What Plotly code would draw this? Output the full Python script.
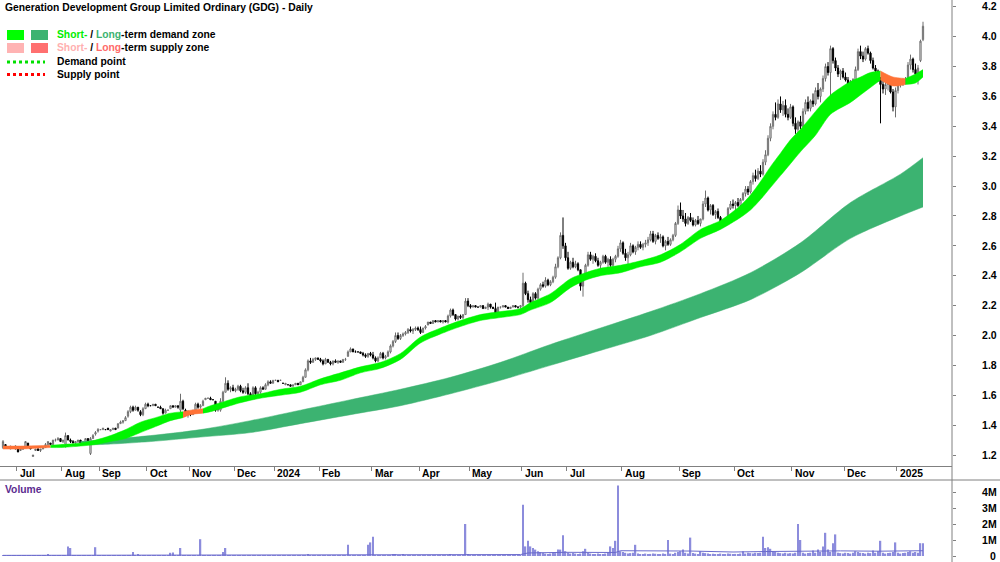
import plotly.graph_objects as go

# ---------------- data (prices in cents, volume in thousands) ----------------
month_labels = ["Jul", "Aug", "Sep", "Oct", "Nov", "Dec", "2024", "Feb", "Mar", "Apr", "May",
                "Jun", "Jul", "Aug", "Sep", "Oct", "Nov", "Dec", "2025"]
month_start = [6, 24, 39, 58, 75, 93, 109, 127, 148, 167, 187, 208, 226, 248, 271, 293, 316, 337, 358]

open_c = [125,127,125,124,125,126,
 124,123,124,125,128,125,119,123,124,123,124,125,127,128,127,130,130,131,
 129,127,133,130,129,128,129,130,128,129,131,121,131,134,136,
 137,137,137,138,136,137,138,138,141,142,143,146,149,152,150,152,149,147,151,
 154,153,153,154,152,152,151,148,150,151,153,152,153,150,156,150,147,
 149,147,150,154,152,153,157,158,158,157,156,150,150,156,162,168,164,165,
 163,164,166,163,162,165,161,158,165,161,162,165,164,167,169,168,
 170,170,170,168,167,167,167,166,167,168,167,169,172,177,183,182,184,185,
 184,183,181,184,182,181,183,182,183,182,184,186,189,191,189,189,189,188,187,186,188,
 187,185,183,185,188,185,186,189,193,196,200,198,200,201,202,204,203,204,205,
 204,202,205,207,209,208,210,209,210,209,210,209,213,217,214,211,213,212,214,223,
 220,219,220,219,219,220,218,219,221,219,218,215,219,219,220,219,218,219,220,219,219,
 220,235,228,224,222,228,225,231,234,233,237,234,236,239,246,252,267,260,
 252,245,249,246,248,244,233,240,247,254,251,253,250,247,249,253,249,251,247,251,253,258,
 262,255,252,254,260,256,259,261,259,261,262,264,268,263,267,265,266,260,263,261,264,267,275,
 284,280,278,275,279,277,274,277,275,278,288,292,284,287,281,283,279,274,277,278,285,288,
 287,289,287,291,295,298,296,303,307,305,310,308,316,321,332,340,348,346,355,351,354,348,346,
 353,342,338,343,340,350,356,352,357,355,364,360,365,372,380,376,392,384,379,375,377,
 373,371,368,370,367,378,390,387,385,392,389,384,379,377,371,368,365,368,370,363,353,
 364,368,369,370,371,381,385,378,375,384,398]

high_c = [130,127,125,126,125,126,
 126,124,124,129,128,125,120,124,125,124,125,128,129,128,130,131,132,131,
 130,135,133,131,130,129,130,130,129,131,131,132,134,136,138,
 137,138,137,138,137,138,138,141,143,143,146,150,153,153,153,152,150,152,155,
 155,153,154,154,152,153,151,151,150,153,153,153,153,161,157,151,150,
 149,150,155,155,154,157,158,158,159,157,156,152,158,163,172,170,166,167,
 165,167,167,165,166,168,162,166,166,163,166,166,168,170,170,170,
 170,170,170,168,168,167,167,167,168,168,169,173,178,184,185,185,185,185,
 185,184,185,184,183,183,184,183,183,184,185,190,192,191,190,189,189,189,188,188,189,
 189,186,186,189,189,187,190,194,197,202,202,201,202,203,205,206,205,206,206,
 206,205,207,209,209,210,210,210,210,210,210,214,218,218,214,213,214,214,225,225,
 221,220,220,219,220,220,219,222,221,219,222,219,219,220,220,219,219,220,220,219,220,
 242,236,230,226,229,229,232,235,236,239,238,237,240,248,253,269,279,262,
 256,250,252,250,249,244,241,248,256,256,254,255,252,250,254,254,252,253,252,254,260,264,
 263,258,256,262,261,260,263,263,262,264,266,270,270,268,269,268,267,264,266,265,268,276,287,
 289,284,282,280,282,279,278,280,278,290,297,293,288,288,284,285,280,278,279,286,290,291,
 290,292,292,296,300,300,304,309,311,312,314,318,324,334,342,350,356,358,360,357,358,352,355,
 354,346,344,347,352,358,360,358,362,366,369,366,374,382,383,394,393,386,381,378,379,
 376,373,371,372,380,392,394,390,393,394,390,386,381,378,373,372,370,372,371,365,366,
 369,371,372,373,383,388,386,382,381,398,410]

low_c = [124,125,125,124,125,124,
 122,123,124,125,126,124,119,123,123,122,124,125,126,127,127,129,130,129,
 128,125,130,128,128,127,128,128,127,129,129,120,131,133,135,
 137,137,137,137,136,137,137,138,141,141,143,145,148,149,150,149,146,146,151,
 152,153,153,153,152,151,147,148,150,151,152,152,151,148,150,146,145,
 146,147,149,151,151,153,157,158,157,157,149,149,149,155,162,163,162,163,
 162,163,162,161,161,160,157,158,160,158,161,164,164,166,168,168,
 170,169,170,168,167,167,166,166,167,167,167,169,172,176,181,182,183,184,
 182,180,181,182,180,180,182,181,182,182,183,186,189,189,189,189,188,186,185,185,186,
 184,182,182,185,184,184,186,188,192,195,197,197,199,200,201,202,201,203,203,
 201,202,204,207,208,208,209,209,209,208,209,208,212,213,210,210,211,211,214,219,
 218,219,219,219,219,218,218,217,218,218,212,215,218,219,219,218,218,219,219,218,218,
 219,227,222,220,221,224,224,230,232,232,233,233,235,238,245,251,258,250,
 244,244,245,245,243,230,226,239,246,250,248,249,246,244,248,248,246,246,246,249,252,256,
 254,250,248,253,255,254,257,258,257,259,260,263,262,261,264,262,259,257,260,260,263,266,274,
 278,276,273,274,276,273,273,274,273,277,286,283,281,280,278,278,272,272,273,277,284,285,
 284,286,286,290,293,294,295,301,303,304,306,307,314,320,330,338,344,345,349,347,346,344,345,
 340,335,333,338,339,348,350,350,353,354,358,356,363,370,374,353,382,377,373,371,372,
 370,366,365,366,366,377,385,383,384,388,382,378,375,370,342,362,361,364,362,350,346,
 362,366,367,368,370,378,376,372,368,383,397]

close_c = [129,125,125,126,125,124,
 122,124,124,129,126,124,120,124,123,124,125,127,129,127,130,130,131,129,
 130,133,130,129,128,129,130,128,129,131,129,131,133,135,137,
 137,138,137,137,137,138,137,141,142,143,145,149,152,150,152,150,147,151,154,
 153,153,154,153,152,151,148,150,150,153,152,153,152,156,151,147,149,
 147,150,154,152,153,156,158,158,157,157,150,151,156,162,168,164,165,163,
 164,166,163,162,165,161,158,165,161,162,165,164,167,169,168,170,
 170,169,170,168,168,167,166,167,168,167,169,172,177,183,182,184,185,184,
 183,181,184,182,181,183,182,183,182,184,184,189,191,189,189,189,188,187,186,188,187,
 185,183,185,188,185,186,189,193,196,200,198,200,201,202,204,203,204,205,204,
 202,205,206,209,208,210,209,210,209,210,209,213,217,214,211,213,212,214,223,220,
 219,220,219,219,220,218,219,221,219,218,215,219,219,220,219,218,219,220,219,219,220,
 235,228,224,222,228,225,231,234,233,237,234,236,239,246,252,267,260,252,
 245,249,246,248,244,233,240,247,254,251,253,250,247,249,253,249,251,247,251,253,258,262,
 255,252,254,260,256,259,261,259,261,262,264,268,263,267,265,266,260,263,261,264,267,275,284,
 280,278,275,279,277,274,277,275,278,288,292,284,287,281,283,279,274,277,278,285,288,287,
 289,287,291,295,298,296,303,307,305,310,308,316,321,332,340,348,346,355,351,354,348,346,353,
 342,338,343,340,350,356,352,357,355,364,360,365,372,380,376,392,384,379,375,377,373,
 371,368,370,367,378,390,387,385,392,389,384,379,377,371,368,365,368,370,363,353,364,
 368,369,370,371,381,385,378,375,379,397,407]

volume_k = [40,20,10,15,10,20,30,10,15,40,20,10,15,10,20,25,10,15,100,20,30,15,20,25,
 30,20,600,500,30,20,15,25,20,30,15,40,20,550,30,
 20,15,10,20,15,10,20,40,30,25,40,60,30,250,40,100,30,20,40,
 30,20,15,20,10,20,40,30,20,200,220,40,30,500,60,40,30,
 40,30,60,50,1050,40,30,20,20,30,60,40,50,250,500,60,40,30,
 40,30,50,30,40,60,40,30,30,20,40,30,50,60,30,20,
 10,15,10,20,15,10,10,20,15,10,20,40,60,80,50,40,30,40,
 30,40,20,30,20,30,20,30,20,30,40,700,60,40,20,15,20,30,40,700,850,
 1200,60,40,30,40,30,50,60,80,70,50,40,100,50,40,30,40,30,40,
 30,40,30,20,20,30,20,30,20,20,30,60,80,40,30,40,30,40,2000,80,
 60,40,30,30,20,30,30,40,30,20,60,40,30,30,20,30,30,20,30,30,40,
 3200,600,950,600,500,400,300,250,200,150,120,150,200,180,400,400,1300,300,
 200,150,180,150,120,150,300,450,200,150,120,100,150,120,130,150,200,600,500,950,4400,300,
 250,200,150,180,200,700,150,120,100,150,120,130,150,140,120,100,150,130,1000,150,120,200,250,
 300,400,200,150,1150,180,150,120,300,200,180,150,120,140,100,120,150,130,120,150,140,120,
 130,120,150,300,150,200,180,150,200,180,200,1200,500,550,450,300,250,200,180,150,200,150,180,
 150,200,2000,1000,200,150,180,200,350,200,400,250,600,1450,400,250,800,1350,200,180,150,
 200,180,150,200,300,250,200,180,150,200,180,350,200,300,950,200,150,180,200,250,850,
 200,150,180,200,250,300,200,250,200,800,800]

vol_ma_x = [0, 60, 100, 150, 207, 210, 225, 245, 247, 275, 292, 305, 318, 335, 350, 368]
vol_ma_k = [40, 60, 70, 100, 90, 190, 230, 220, 330, 310, 250, 280, 300, 320, 300, 330]

short_x = [0,7,19,23,31,37,43,49,55,61,67,72,75,80,83,87,95,103,111,119,127,135,143,151,159,
           167,175,183,191,199,207,211,219,227,233,239,247,255,263,271,279,287,295,299,303,307,
           311,315,319,325,331,339,343,347,351,356,361,365,368]
short_hi = [1.26,1.26,1.265,1.27,1.28,1.30,1.33,1.37,1.42,1.45,1.48,1.49,1.50,1.51,1.53,1.55,1.59,
            1.61,1.64,1.66,1.71,1.75,1.79,1.82,1.88,1.99,2.05,2.10,2.14,2.16,2.18,2.22,2.28,2.38,
            2.42,2.45,2.47,2.50,2.54,2.61,2.71,2.77,2.87,2.94,3.03,3.13,3.22,3.31,3.38,3.50,3.61,
            3.70,3.73,3.76,3.77,3.73,3.72,3.75,3.78]
short_lo = [1.24,1.24,1.25,1.25,1.26,1.27,1.29,1.31,1.35,1.39,1.43,1.45,1.47,1.48,1.49,1.51,1.55,
            1.58,1.60,1.62,1.67,1.70,1.75,1.78,1.84,1.95,2.01,2.06,2.10,2.12,2.14,2.17,2.22,2.32,
            2.37,2.40,2.42,2.46,2.49,2.56,2.65,2.71,2.79,2.84,2.91,2.99,3.07,3.15,3.23,3.34,3.48,
            3.56,3.61,3.66,3.71,3.67,3.68,3.69,3.73]
short_supply = [(0, 19), (72, 80), (351, 361)]

long_x = [31,39,59,79,99,119,139,159,179,199,219,239,259,279,299,319,339,359,368]
long_hi = [1.29,1.30,1.33,1.37,1.43,1.50,1.57,1.64,1.72,1.82,1.94,2.05,2.16,2.28,2.42,2.62,2.89,3.08,3.19]
long_lo = [1.27,1.27,1.29,1.32,1.35,1.41,1.47,1.53,1.61,1.70,1.80,1.90,2.00,2.12,2.24,2.42,2.65,2.80,2.86]

price_ticks = [1.2, 1.4, 1.6, 1.8, 2.0, 2.2, 2.4, 2.6, 2.8, 3.0, 3.2, 3.4, 3.6, 3.8, 4.0, 4.2]
vol_ticks = [0, 1, 2, 3, 4]
vol_tick_text = ["\u2007\u20090", "1M", "2M", "3M", "4M"]

# ---------------- styling ----------------
W, H, PW = 1000, 562, 952
FONT = "Liberation Sans, Arial, sans-serif"
C_SHORT_D = "#00F500"
C_LONG_D = "#3CB371"
C_SUPPLY = "#FF7236"
AX = "#808080"

def px(x):
    return x / PW

def py(y):
    return 1 - y / H

n = len(close_c)
assert len(open_c) == len(high_c) == len(low_c) == len(volume_k) == n
xs = list(range(n))

fig = go.Figure()

def band(xv, hi, lo, color, yaxis="y"):
    fig.add_trace(go.Scatter(x=xv, y=lo, mode="lines", line=dict(width=0.5, color=color, shape="spline", smoothing=0.8),
                             hoverinfo="skip", yaxis=yaxis))
    fig.add_trace(go.Scatter(x=xv, y=hi, mode="lines", line=dict(width=0.5, color=color, shape="spline", smoothing=0.8),
                             fill="tonexty", fillcolor=color, hoverinfo="skip", yaxis=yaxis))

# long-term band
band(long_x, long_hi, long_lo, C_LONG_D)

# short-term band in segments
bounds = sorted(set([short_x[0], short_x[-1]] + [b for s in short_supply for b in s]))
for a, b in zip(bounds[:-1], bounds[1:]):
    is_sup = any(s0 <= a and b <= s1 for s0, s1 in short_supply)
    idx = [k for k, v in enumerate(short_x) if a <= v <= b]
    band([short_x[k] for k in idx], [short_hi[k] for k in idx], [short_lo[k] for k in idx],
         C_SUPPLY if is_sup else C_SHORT_D)

# candles
fig.add_trace(go.Candlestick(
    x=xs, open=[v / 100 for v in open_c], high=[v / 100 for v in high_c],
    low=[v / 100 for v in low_c], close=[v / 100 for v in close_c],
    increasing=dict(line=dict(color="#6e6e6e", width=1), fillcolor="#ffffff"),
    decreasing=dict(line=dict(color="#000000", width=1), fillcolor="#000000"),
    whiskerwidth=0, hoverinfo="skip"))

# volume
fig.add_trace(go.Bar(x=xs, y=[v / 1000 for v in volume_k], width=0.6,
                     marker=dict(color="#8c8cdc", line=dict(width=0)),
                     xaxis="x2", yaxis="y2", hoverinfo="skip"))
fig.add_trace(go.Scatter(x=vol_ma_x, y=[v / 1000 for v in vol_ma_k], mode="lines",
                         line=dict(color="#6a6acc", width=1), xaxis="x2", yaxis="y2", hoverinfo="skip"))

xr = [-1.2, 379.6]
fig.update_layout(
    width=W, height=H, margin=dict(l=0, r=W - PW, t=0, b=0),
    paper_bgcolor="white", plot_bgcolor="white", showlegend=False,
    font=dict(family=FONT, size=10, color="black"),
    xaxis=dict(domain=[0, 1], range=xr, anchor="y", showgrid=False, zeroline=False,
               showline=True, linecolor=AX, linewidth=1, ticks="outside", ticklen=4, tickcolor=AX,
               tickvals=[m - 0.5 for m in month_start], showticklabels=False,
               rangeslider=dict(visible=False), automargin=False),
    xaxis2=dict(domain=[0, 1], range=xr, anchor="y2", showgrid=False, zeroline=False,
                showline=False, showticklabels=False, automargin=False),
    yaxis=dict(domain=[py(466), 1], range=[1.1264, 4.2455], side="right", showgrid=False,
               zeroline=False, showline=False, ticks="outside", ticklen=3, tickcolor=AX,
               tickvals=price_ticks, ticktext=[f"{v:.1f}" for v in price_ticks],
               tickfont=dict(family=FONT, size=10.5, color="black", weight="bold"),
               ticklabelstandoff=24, ticklabeloverflow="allow", automargin=False),
    yaxis2=dict(domain=[0, py(480)], range=[-0.375, 4.75], side="right", showgrid=False,
                zeroline=False, showline=False, ticks="outside", ticklen=3, tickcolor=AX,
                tickvals=vol_ticks, ticktext=vol_tick_text,
                tickfont=dict(family=FONT, size=10.5, color="black", weight="bold"),
                ticklabelstandoff=24, ticklabeloverflow="allow", automargin=False),
)

shapes = [
    dict(type="line", xref="paper", yref="paper", x0=1, x1=1, y0=0, y1=1, line=dict(color=AX, width=1)),
    dict(type="line", xref="paper", yref="paper", x0=0, x1=W / PW, y0=py(480), y1=py(480), line=dict(color=AX, width=1)),
    # legend swatches
    dict(type="rect", xref="paper", yref="paper", x0=px(7), x1=px(24), y0=py(40), y1=py(30), fillcolor="#00FF00", line=dict(width=0)),
    dict(type="rect", xref="paper", yref="paper", x0=px(31), x1=px(48), y0=py(40), y1=py(30), fillcolor=C_LONG_D, line=dict(width=0)),
    dict(type="rect", xref="paper", yref="paper", x0=px(7), x1=px(24), y0=py(53), y1=py(43), fillcolor="#FFB3B3", line=dict(width=0)),
    dict(type="rect", xref="paper", yref="paper", x0=px(31), x1=px(48), y0=py(53), y1=py(43), fillcolor="#FF7070", line=dict(width=0)),
    dict(type="line", xref="paper", yref="paper", x0=px(7), x1=px(45), y0=py(62), y1=py(62), line=dict(color="#00E000", width=3, dash="dot")),
    dict(type="line", xref="paper", yref="paper", x0=px(7), x1=px(45), y0=py(74.5), y1=py(74.5), line=dict(color="#FF0000", width=3, dash="dot")),
]
fig.update_layout(shapes=shapes)

bold = dict(family=FONT, size=10.3, color="black", weight="bold")
ann = [
    dict(text="Generation Development Group Limited Ordinary (GDG) - Daily", x=px(3), y=py(7)),
    dict(text='<span style="color:#00EE00">Short-</span> / <span style="color:#3CB371">Long</span>-term demand zone',
         x=px(55), y=py(35)),
    dict(text='<span style="color:#FFB0B0">Short-</span> / <span style="color:#FF6A6A">Long</span>-term supply zone',
         x=px(55), y=py(48)),
    dict(text="Demand point", x=px(55), y=py(62)),
    dict(text="Supply point", x=px(55), y=py(75)),
    dict(text="Volume", x=px(3), y=py(489), font=dict(family=FONT, size=10.3, color="#5B2C8F", weight="bold")),
]
annotations = []
for a in ann:
    d = dict(xref="paper", yref="paper", xanchor="left", yanchor="middle", showarrow=False, font=bold)
    d.update(a)
    annotations.append(d)
for lab, m in zip(month_labels, month_start):
    annotations.append(dict(text=lab, xref="x", yref="paper", x=m - 0.5, xshift=1, y=py(474),
                            xanchor="left", yanchor="middle", showarrow=False, font=bold))
fig.update_layout(annotations=annotations)

fig.write_html("out.html")
